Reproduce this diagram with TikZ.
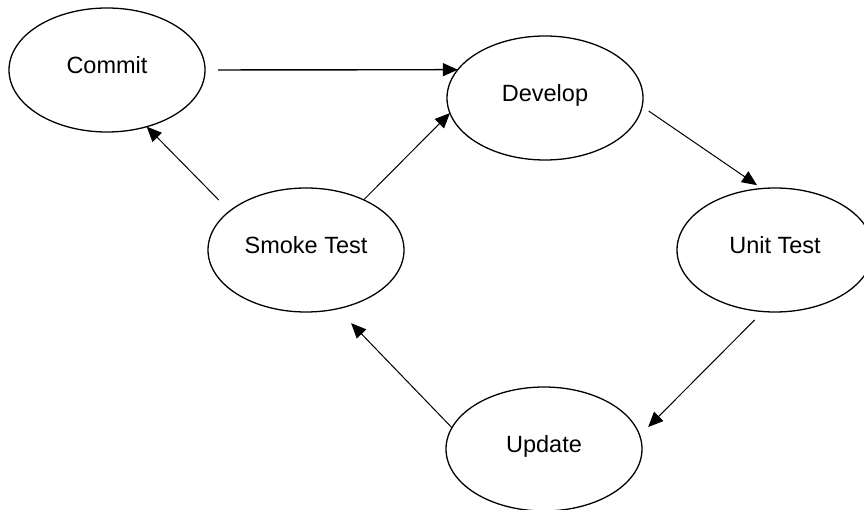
\documentclass[tikz,border=0pt]{standalone}
\usepackage{fontspec}
\setmainfont{Liberation Sans}
\usetikzlibrary{shapes.geometric,arrows.meta}
\begin{document}
\begin{tikzpicture}[x=1pt,y=-1pt,
  state/.style={ellipse,draw,line width=1.3pt,minimum width=196pt,minimum height=124pt,
    inner sep=0pt,outer sep=0pt,font=\fontsize{23.5}{26}\selectfont,text height=17pt,text depth=10pt},
  arr/.style={line width=1pt,-{Triangle[length=15pt,width=13pt]}}]
\useasboundingbox (0,0) rectangle (864,510);
\clip (0,0) rectangle (864,510);
\node[state] (commit) at (107,70) {Commit};
\node[state] (develop) at (545,98) {Develop};
\node[state] (smoke) at (306,250) {Smoke Test};
\node[state] (unit) at (775,250) {Unit Test};
\node[state] (update) at (544,449) {Update};
\draw[arr,line width=1.4pt,shorten <=13pt] (commit.east) -- (develop.162);
\draw[arr] (smoke.41) -- (develop.189);
\draw[arr,shorten <=15.5pt] (smoke.153) -- (commit.-55);
\draw[arr,shorten <=8pt,shorten >=6pt] (develop.-5) -- (unit.102);
\draw[arr,shorten <=12pt,shorten >=12pt] (unit.-101) -- (update.8);
\draw[arr,shorten >=20pt] (update.167) -- (smoke.-62);
\end{tikzpicture}
\end{document}
